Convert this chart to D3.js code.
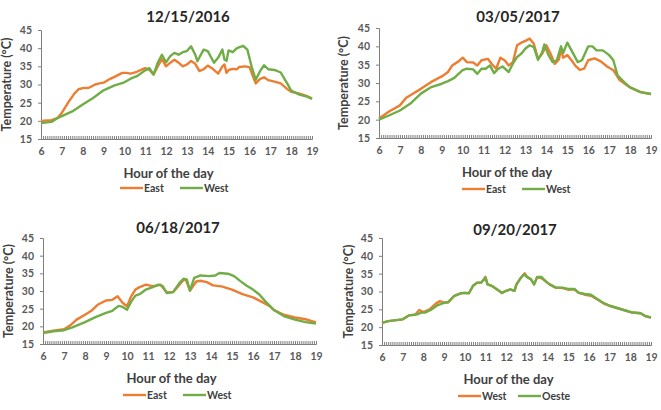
<!DOCTYPE html>
<html>
<head>
<meta charset="utf-8">
<script src="https://cdn.jsdelivr.net/npm/d3@7"></script>
<style>
  body { margin: 0; background: #fff; }
  svg { display: block; font-family: Lato, "Open Sans", sans-serif; }
</style>
</head>
<body>
<svg id="chart" width="661" height="410"></svg>
<script>
// panel titles and legend names
var titles = ["12/15/2016", "03/05/2017", "06/18/2017", "09/20/2017"];
var legendNames = [["East", "West"], ["East", "West"], ["East", "West"], ["West", "Oeste"]];
var xTicks = [6, 7, 8, 9, 10, 11, 12, 13, 14, 15, 16, 17, 18, 19];
var yTicks = [15, 20, 25, 30, 35, 40, 45];

// [hour, temperature]
var eastDec = [[6.0,20],[6.5,20.2],[6.8,20.8],[7.0,22.2],[7.3,25],[7.6,27.5],[7.8,28.7],[8.0,29],[8.3,29.1],[8.6,30],[8.8,30.3],[9.0,30.5],[9.3,31.5],[9.6,32.3],[9.9,33.2],[10.1,33.2],[10.3,33],[10.6,33.5],[10.9,34.3],[11.0,34.5],[11.2,34],[11.4,32.8],[11.6,35],[11.8,37],[12.0,35],[12.2,36],[12.4,36.8],[12.6,36],[12.8,35],[13.0,35.5],[13.2,36.5],[13.4,35.7],[13.6,33.7],[13.8,34.2],[14.0,35.2],[14.2,34.5],[14.5,33],[14.7,35],[14.8,35.5],[14.9,33.2],[15.0,34],[15.2,34.3],[15.4,34.2],[15.5,34.8],[15.8,35],[16.0,34.8],[16.2,31.8],[16.3,30.3],[16.5,31.5],[16.7,32],[16.9,31.2],[17.2,30.8],[17.5,30.3],[17.8,28.8],[18.0,28],[18.4,27.5],[18.8,26.7],[19.0,26.2]];
var westDec = [[6.0,19.4],[6.5,19.7],[6.8,20.8],[7.0,21.3],[7.5,22.6],[8.0,24.5],[8.5,26.3],[9.0,28.4],[9.5,29.7],[10.0,30.6],[10.3,31.6],[10.6,32.3],[11.0,33.9],[11.2,34.5],[11.4,32.7],[11.6,36],[11.8,38.2],[12.0,36.1],[12.2,37.8],[12.4,38.7],[12.6,38.2],[12.8,38.9],[13.0,39.2],[13.2,40.5],[13.4,38.2],[13.5,36.4],[13.8,39.6],[14.0,39.2],[14.3,36],[14.5,37.4],[14.7,39.6],[14.8,36.9],[14.9,36.5],[15.0,39.4],[15.2,38.9],[15.4,40],[15.7,40.6],[15.9,39.6],[16.1,35],[16.3,31.3],[16.5,33.6],[16.7,35.3],[16.9,34.2],[17.2,34],[17.5,33.3],[17.8,30.4],[18.0,28.3],[18.4,27.2],[18.8,26.6],[19.0,26]];

var eastMar = [[6.0,20.3],[6.5,22.3],[7.0,23.9],[7.3,26],[7.6,27],[8.0,28.4],[8.5,30.3],[9.0,31.8],[9.3,33],[9.5,34.8],[9.8,35.9],[10.0,36.9],[10.2,35.7],[10.5,35.6],[10.7,34.8],[10.9,36.2],[11.2,36.6],[11.4,35.1],[11.6,33.9],[11.8,36.9],[12.0,36.2],[12.2,34.8],[12.4,35.7],[12.6,40.3],[12.8,41],[13.0,41.5],[13.2,42.1],[13.4,40.7],[13.6,36.6],[13.8,38],[14.0,40.3],[14.2,38],[14.4,35.2],[14.6,36.4],[14.7,39.4],[14.8,36.9],[15.0,37.6],[15.2,36.2],[15.4,34.6],[15.6,33.6],[15.8,33.9],[16.0,36.2],[16.3,36.7],[16.6,35.9],[16.9,34.5],[17.2,33.5],[17.5,30.8],[18.0,28.8],[18.5,27.5],[19.0,27]];
var westMar = [[6.0,20],[6.5,21.2],[7.0,22.5],[7.5,24.4],[8.0,27.1],[8.5,28.9],[9.0,29.8],[9.3,30.5],[9.6,31.4],[9.8,32.5],[10.0,33.5],[10.2,33.9],[10.5,33.7],[10.7,32.5],[10.9,33.9],[11.1,33.9],[11.3,34.8],[11.5,32.7],[11.7,33.9],[11.9,34.5],[12.2,33],[12.4,35.3],[12.6,37.1],[12.8,38],[13.0,39.4],[13.2,40.3],[13.4,39.8],[13.6,36.3],[13.8,38.4],[13.9,40.5],[14.1,37.6],[14.3,35.7],[14.5,36.2],[14.7,40],[14.8,38.2],[15.0,41],[15.2,38.9],[15.5,35.7],[15.7,36.2],[16.0,40],[16.2,40],[16.4,38.9],[16.7,38.9],[17.0,37.6],[17.2,36.2],[17.4,32.1],[17.8,29.8],[18.0,28.8],[18.5,27.5],[19.0,27]];

var eastJun = [[6.0,18.3],[6.5,18.8],[7.0,19.2],[7.3,20.3],[7.6,21.9],[8.0,23.3],[8.3,24.4],[8.6,26.1],[9.0,27.3],[9.3,27.5],[9.55,28.5],[9.8,26.6],[10.0,25.7],[10.2,28.5],[10.4,30.4],[10.6,31.1],[10.9,31.8],[11.2,31.4],[11.4,31.5],[11.6,31.8],[11.7,31],[11.9,29.6],[12.2,29.7],[12.5,31.8],[12.7,33.2],[12.8,33.2],[13.0,30.1],[13.3,32.7],[13.5,32.9],[13.8,32.5],[14.1,31.6],[14.5,31.3],[15.0,30.4],[15.5,29.1],[16.0,28.2],[16.4,27],[16.8,25.7],[17.0,24.6],[17.5,23.2],[18.0,22.5],[18.5,22],[19.0,21.1]];
var westJun = [[6.0,18.1],[6.5,18.6],[7.0,18.9],[7.4,19.7],[8.0,21.2],[8.5,22.6],[9.0,23.8],[9.3,24.4],[9.6,25.8],[9.8,25.5],[10.0,24.7],[10.2,27],[10.4,28.7],[10.6,29.1],[10.9,30.4],[11.2,31],[11.5,31.8],[11.7,31.4],[11.9,29.4],[12.2,29.7],[12.5,32.3],[12.7,33.5],[12.85,33.2],[13.0,30.1],[13.2,33.7],[13.5,34.4],[13.9,34.2],[14.2,34.4],[14.4,35.1],[14.8,34.9],[15.1,34.2],[15.4,32.8],[15.7,31.5],[16.0,30.4],[16.3,29],[16.6,27],[17.0,24.6],[17.5,22.8],[18.0,21.9],[18.5,21.2],[19.0,20.8]];

var westSep = [[6.0,21.2],[6.3,21.7],[6.6,21.9],[7.0,22.2],[7.3,23.3],[7.6,23.5],[7.8,24.8],[8.0,24.2],[8.3,25],[8.6,26.6],[8.8,27.3],[9.0,26.9],[9.2,27],[9.5,28.8],[9.8,29.5],[10.0,29.6],[10.2,29.5],[10.4,31.6],[10.6,32.5],[10.8,32.5],[11.0,34.1],[11.1,32],[11.3,31.6],[11.6,30.4],[11.8,29.6],[12.0,30.2],[12.2,30.6],[12.4,30.2],[12.5,32],[12.7,33.8],[12.9,35.1],[13.0,34.2],[13.2,33.4],[13.35,32],[13.5,34],[13.7,33.8],[13.9,32.9],[14.1,32],[14.4,31.1],[14.7,31],[15.0,30.5],[15.3,30.6],[15.5,29.6],[15.8,29.1],[16.1,28.8],[16.4,27.8],[16.7,26.7],[17.0,26],[17.4,25.3],[17.8,24.6],[18.1,24.1],[18.5,23.9],[18.7,23.1],[19.0,22.7]];
var oesteSep = [[6.0,21.2],[6.3,21.7],[6.6,21.9],[7.0,22.2],[7.3,23.3],[7.7,23.6],[7.9,24.1],[8.1,24.1],[8.4,25],[8.7,26.2],[9.0,26.8],[9.2,27],[9.5,28.8],[9.8,29.5],[10.0,29.6],[10.2,29.5],[10.4,31.6],[10.6,32.5],[10.8,32.5],[11.0,33.9],[11.1,32],[11.3,31.6],[11.6,30.4],[11.8,29.6],[12.0,30.2],[12.2,30.6],[12.4,30.2],[12.5,32],[12.7,33.7],[12.85,34.8],[13.0,34.1],[13.2,33.4],[13.35,32],[13.5,34.1],[13.7,34.1],[13.9,32.9],[14.1,32],[14.4,31.1],[14.7,31.1],[15.0,30.7],[15.3,30.7],[15.5,29.7],[15.8,29.3],[16.1,29.1],[16.4,27.9],[16.7,26.8],[17.0,26],[17.4,25.3],[17.8,24.6],[18.1,24.1],[18.5,23.9],[18.7,23.2],[19.0,22.7]];

var seriesByPanel = [[eastDec, westDec], [eastMar, westMar], [eastJun, westJun], [westSep, oesteSep]];
var colors = ["#ED7D31", "#70AD47"];

// plot boxes and text spots for each panel
var panels = [
  { left: 41, right: 312, top: 30, bottom: 139, yLabelX: 6, titleX: 188, titleY: 22, legendX: 120, legendY: 188 },
  { left: 379, right: 651, top: 28, bottom: 138, yLabelX: 343, titleX: 518, titleY: 22, legendX: 462, legendY: 189 },
  { left: 43, right: 316, top: 238, bottom: 344, yLabelX: 8, titleX: 178, titleY: 233, legendX: 123, legendY: 395 },
  { left: 382, right: 651, top: 238, bottom: 345, yLabelX: 348, titleX: 515, titleY: 235, legendX: 458, legendY: 396 }
];

var svg = d3.select("#chart");

panels.forEach(function (p, i) {
  var g = svg.append("g");
  var x = d3.scaleLinear().domain([6, 19]).range([p.left, p.right]);
  var y = d3.scaleLinear().domain([15, 45]).range([p.bottom, p.top]);

  // minor ticks on x axis, 10 per hour
  var minor = d3.range(60, 191).map(function (d) { return d / 10; });
  g.append("g")
    .attr("transform", "translate(0," + p.bottom + ")")
    .call(d3.axisTop(x).tickValues(minor).tickSize(3).tickFormat(""))
    .call(function (a) {
      a.select(".domain").attr("stroke", "#7f7f7f");
      a.selectAll(".tick line").attr("stroke", "#7f7f7f");
    });

  g.append("g")
    .attr("transform", "translate(0," + p.bottom + ")")
    .call(d3.axisBottom(x).tickValues(xTicks).tickSize(0).tickPadding(9).tickFormat(d3.format("d")))
    .call(function (a) {
      a.select(".domain").remove();
      a.selectAll("text").attr("fill", "#595959").attr("font-size", 10.5).attr("font-weight", "bold").attr("font-family", "Lato, sans-serif");
    });

  g.append("g")
    .attr("transform", "translate(" + p.left + ",0)")
    .call(d3.axisLeft(y).tickValues(yTicks).tickSize(3).tickPadding(6))
    .call(function (a) {
      a.select(".domain").attr("stroke", "#7f7f7f");
      a.selectAll(".tick line").attr("stroke", "#7f7f7f");
      a.selectAll("text").attr("fill", "#595959").attr("font-size", 10.5).attr("font-weight", "bold").attr("font-family", "Lato, sans-serif");
    });

  var line = d3.line()
    .x(function (d) { return x(d[0]); })
    .y(function (d) { return y(d[1]); });

  seriesByPanel[i].forEach(function (s, k) {
    g.append("path")
      .datum(s)
      .attr("fill", "none")
      .attr("stroke", colors[k])
      .attr("stroke-width", 2.4)
      .attr("stroke-linejoin", "round")
      .attr("d", line);
  });

  g.append("text")
    .attr("x", p.titleX).attr("y", p.titleY)
    .attr("text-anchor", "middle")
    .attr("font-size", 15).attr("font-weight", "bold").attr("fill", "#262626")
    .text(titles[i]);

  g.append("text")
    .attr("x", (p.left + p.right) / 2 - 8).attr("y", p.bottom + 39)
    .attr("text-anchor", "middle")
    .attr("font-size", 13).attr("font-weight", "bold").attr("fill", "#404040")
    .text("Hour of the day");

  g.append("text")
    .attr("transform", "translate(" + p.yLabelX + "," + (p.top + p.bottom) / 2 + ") rotate(-90)")
    .attr("text-anchor", "middle")
    .attr("dominant-baseline", "central")
    .attr("font-size", 12.5).attr("font-weight", "bold").attr("fill", "#404040")
    .text("Temperature  (°C)");

  // legend
  legendNames[i].forEach(function (name, k) {
    var lx = p.legendX + k * 60;
    g.append("line")
      .attr("x1", lx).attr("x2", lx + 23)
      .attr("y1", p.legendY).attr("y2", p.legendY)
      .attr("stroke", colors[k]).attr("stroke-width", 2.4);
    g.append("text")
      .attr("x", lx + 24).attr("y", p.legendY)
      .attr("dominant-baseline", "central")
      .attr("font-size", 10.5).attr("font-weight", "bold").attr("fill", "#404040")
      .text(name);
  });
});
</script>
</body>
</html>
